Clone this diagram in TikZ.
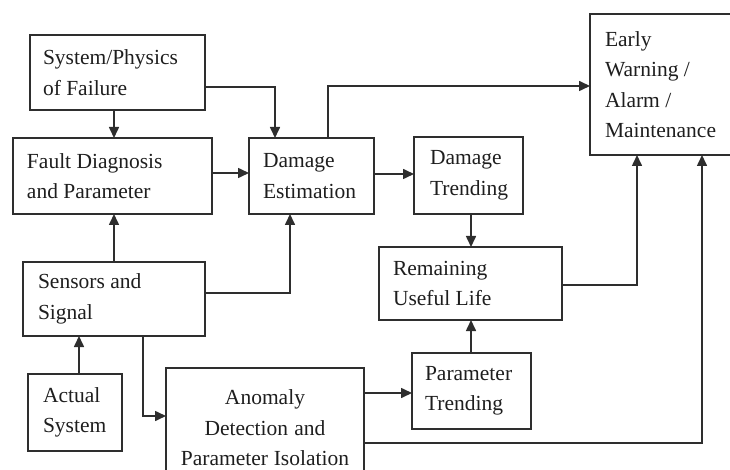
\documentclass[tikz,border=0pt]{standalone}
\usepackage{fontspec}
\setmainfont{Liberation Serif}
\usetikzlibrary{arrows.meta}
\definecolor{ln}{HTML}{2E2E2E}
\definecolor{tx}{HTML}{1E1E1E}
\tikzset{
  bx/.style={draw=ln, line width=1.6pt, anchor=north west, outer sep=0pt,
    inner ysep=0pt, align=left, text=tx,
    font={\fontsize{21.5}{30.5}\selectfont},
    execute at begin node={\spaceskip=0.25em plus 0.05em\relax}},
  arr/.style={draw=ln, line width=1.6pt, -{Triangle[length=11pt,width=10pt]}}
}
\begin{document}
\begin{tikzpicture}[x=1pt,y=-1pt]
\useasboundingbox (0,0) rectangle (730,470);
\clip (0,0) rectangle (730,470);
\node[bx, text width=149pt, inner xsep=13pt, minimum height=75pt] (sys) at (30,35) {System/Physics\\of Failure};
\node[bx, text width=171pt, inner xsep=14pt, minimum height=76pt] (fault) at (13,138) {Fault Diagnosis\\and Parameter};
\node[bx, text width=97pt, inner xsep=14pt, minimum height=76pt] (dest) at (249,138) {Damage\\Estimation};
\node[bx, text width=77pt, inner xsep=16pt, minimum height=77pt] (dtrend) at (414,137) {Damage\\Trending};
\node[bx, text width=125pt, inner xsep=15pt, minimum height=141pt] (ew) at (590,14) {Early\\Warning /\\Alarm /\\Maintenance};
\node[bx, text width=155pt, inner xsep=14pt, minimum height=73pt] (rul) at (379,247) {Remaining\\Useful Life};
\node[bx, text width=152pt, inner xsep=15pt, minimum height=74pt] (sens) at (23,262) {Sensors and\\Signal};
\node[bx, text width=64pt, inner xsep=15pt, minimum height=77pt] (act) at (28,374) {Actual\\System};
\node[bx, align=center, text width=190pt, inner xsep=4pt, minimum height=120pt] (anom) at (166,368) {Anomaly\\Detection and\\Parameter Isolation};
\node[bx, text width=93pt, inner xsep=13pt, minimum height=76pt] (ptrend) at (412,353) {Parameter\\Trending};

\draw[arr] (114,0 |- sys.south) -- (114,0 |- fault.north);
\draw[arr] (sys.east |- 0,87) -| (275,0 |- dest.north);
\draw[arr] (328,0 |- dest.north) |- (ew.west |- 0,86);
\draw[arr] (fault.east |- 0,173) -- (dest.west |- 0,173);
\draw[arr] (dest.east |- 0,174) -- (dtrend.west |- 0,174);
\draw[arr] (471,0 |- dtrend.south) -- (471,0 |- rul.north);
\draw[arr] (rul.east |- 0,285) -| (637,0 |- ew.south);
\draw[arr] (471,0 |- ptrend.north) -- (471,0 |- rul.south);
\draw[arr] (anom.east |- 0,393) -- (ptrend.west |- 0,393);
\draw[arr] (anom.east |- 0,443) -| (702,0 |- ew.south);
\draw[arr] (114,0 |- sens.north) -- (114,0 |- fault.south);
\draw[arr] (sens.east |- 0,293) -| (290,0 |- dest.south);
\draw[arr] (79,0 |- act.north) -- (79,0 |- sens.south);
\draw[arr] (143,0 |- sens.south) |- (anom.west |- 0,416);
\end{tikzpicture}
\end{document}
